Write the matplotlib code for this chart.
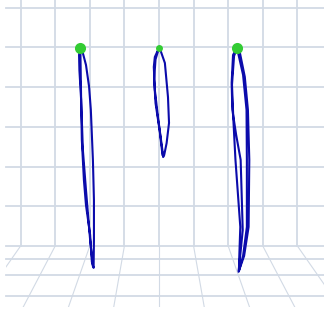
import matplotlib
matplotlib.use("Agg")
import matplotlib.pyplot as plt
from matplotlib.patches import Rectangle

# pendulum tip paths as seen on the back wall (x across, z up, wall units)
path_a_x = [-2.28, -2.20, -2.11, -2.02, -1.97, -1.91, -1.88, -1.88, -1.89,
            -1.94, -1.99, -2.11, -2.17, -2.23, -2.25, -2.30, -2.31, -2.28,
            -2.27, -2.25, -2.20, -2.11, -1.99, -1.91]
path_a_z = [4.99, 4.86, 4.56, 4.01, 3.43, 2.17, 1.16, 0.15, -0.55,
            -0.40, 0.28, 1.03, 1.66, 2.67, 3.68, 4.43, 4.81, 4.99,
            4.81, 3.68, 2.42, 1.41, 0.15, -0.50]

path_b_x = [0.00, -0.12, -0.15, -0.12, -0.03, 0.11, 0.12, 0.15, 0.22,
            0.29, 0.26, 0.17, 0.03, 0.00, -0.10, -0.14, -0.10, 0.02, 0.10]
path_b_z = [4.99, 4.76, 4.51, 3.93, 3.25, 2.34, 2.24, 2.29, 2.59,
            3.10, 3.75, 4.61, 4.96, 4.99, 4.70, 4.20, 3.60, 2.90, 2.30]

path_c_x = [2.25, 2.34, 2.48, 2.57, 2.61, 2.59, 2.46, 2.30, 2.33, 2.42,
            2.36, 2.23, 2.12, 2.10, 2.14, 2.25, 2.28, 2.43, 2.53, 2.54,
            2.54, 2.43, 2.31, 2.32, 2.35, 2.21, 2.15, 2.11, 2.17, 2.25]
path_c_z = [4.99, 4.86, 4.26, 3.43, 2.17, 0.48, -0.25, -0.65, -0.40, 0.40,
            2.17, 2.80, 3.43, 4.11, 4.81, 4.99, 4.89, 4.31, 3.43, 2.17,
            0.48, -0.25, -0.63, -0.28, 0.48, 2.17, 3.17, 4.06, 4.79, 4.96]

paths = [(path_a_x, path_a_z), (path_b_x, path_b_z), (path_c_x, path_c_z)]
start_sizes = [8, 5, 8]

# scene grid
wall_cols = [-4, -3, -2, -1, 0, 1, 2, 3, 4]
wall_rows = [0, 1, 2, 3, 4, 5, 6]
floor_rows = [-0.33, -0.73, -1.26]
floor_front = -1.54
vanish_z = 4.99
scene_left = -4.42

grid_color = "#d2dae5"
line_color = "#0b0bab"
start_color = "#33cc33"

fig = plt.figure(figsize=(3.24, 3.20), dpi=100)
ax = fig.add_axes([0, 0, 1, 1])
ax.set_xlim(-4.595, 4.769)
ax.set_ylim(-1.864, 6.196)
ax.axis("off")

x_right = ax.get_xlim()[1]
z_top = ax.get_ylim()[1]

# back wall
for x in wall_cols:
    ax.plot([x, x], [0, z_top], color=grid_color, linewidth=1.3, zorder=1)
for z in wall_rows:
    ax.plot([scene_left, x_right], [z, z], color=grid_color, linewidth=1.3, zorder=1)

# floor, receding toward the vanishing point
floor_clip = Rectangle((scene_left, floor_front), x_right - scene_left, -floor_front,
                       transform=ax.transData, facecolor="none", edgecolor="none")
ax.add_patch(floor_clip)
for z in floor_rows:
    ax.plot([scene_left, x_right], [z, z], color=grid_color, linewidth=1.3, zorder=1)
for x in range(-6, 7):
    x_front = x * (vanish_z - floor_front) / vanish_z
    ln, = ax.plot([x, x_front], [0, floor_front], color=grid_color, linewidth=0.8, zorder=1)
    ln.set_clip_path(floor_clip)

for (px, pz), size in zip(paths, start_sizes):
    ax.plot(px, pz, color=line_color, linewidth=1.5, solid_joinstyle="round", zorder=3)
    ax.plot(px[0], pz[0], "o", color=start_color, markersize=size, markeredgewidth=0, zorder=4)

fig.savefig("out.png", dpi=100)
